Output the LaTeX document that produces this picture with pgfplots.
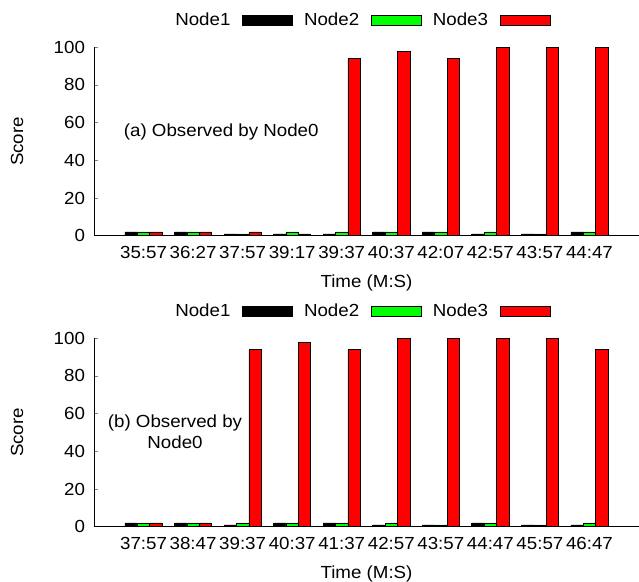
\documentclass[border=0pt]{standalone}
\usepackage{pgfplots}
\usepackage{pgfplotstable}
\pgfplotsset{compat=1.18}
\usepackage{fontspec}
\setmainfont{Liberation Sans}[FakeStretch=1.07]
\newcommand{\fs}{\fontsize{17.5bp}{20.5bp}\selectfont}
\definecolor{gpgreen}{RGB}{0,255,0}
\definecolor{gpred}{RGB}{255,0,0}

\pgfplotstableread{
x n1 n2 n3
0 2 2 2
1 2 2 2
2 1 1 2
3 1 2 1
4 1 2 94
5 2 2 98
6 2 2 94
7 1 2 100
8 1 1 100
9 2 2 100
}\dataA

\pgfplotstableread{
x n1 n2 n3
0 2 2 2
1 2 2 2
2 1 2 94
3 2 2 98
4 2 2 94
5 1 2 100
6 1 1 100
7 2 2 100
8 1 1 100
9 1 2 94
}\dataB

\pgfplotsset{
  mystyle/.style={
    scale only axis,
    width=545bp, height=188.4bp,
    xmin=-1, xmax=10, ymin=0, ymax=100,
    axis x line=bottom, axis y line=left,
    axis line style={-, line width=0.8bp},
    ybar, bar width=0.25,
    clip=false,
    ytick={0,20,...,100},
    xtick={0,...,9},
    xtick style={draw=none},
    ytick style={line width=0.8bp},
    major tick length=4bp,
    tick align=inside,
    /pgf/number format/assume math mode=true,
    tick label style={font=\fs},
    yticklabel style={xshift=-5.5bp},
    xticklabel style={yshift=-7bp},
    label style={font=\fs},
    ylabel={Score},
    xlabel={Time (M:S)},
    ylabel style={at={(axis description cs:-0.1413,0.5)}, anchor=center, rotate=0},
    xlabel style={at={(axis description cs:0.5,-0.251)}, anchor=center},
    legend plot pos=right,
    legend columns=3,
    legend style={at={(axis description cs:0.493,1.1436)}, anchor=center,
      draw=none, fill=none, font=\fs, column sep=11.5bp,
      nodes={inner sep=0pt}},
  },
  n1style/.style={fill=black, draw=black, line width=0.6bp, bar shift=-0.25,
    legend image code/.code={\draw[fill=black,draw=black,line width=0.6bp] (0bp,-5bp) rectangle (50bp,5bp);}},
  n2style/.style={fill=gpgreen, draw=black, line width=0.6bp, bar shift=0,
    legend image code/.code={\draw[fill=gpgreen,draw=black,line width=0.6bp] (0bp,-5bp) rectangle (50bp,5bp);}},
  n3style/.style={fill=gpred, draw=black, line width=0.6bp, bar shift=0.25,
    legend image code/.code={\draw[fill=gpred,draw=black,line width=0.6bp] (0bp,-5bp) rectangle (50bp,5bp);}},
}

\begin{document}
\begin{tikzpicture}[x=1bp,y=1bp]
\path[use as bounding box] (0,0) rectangle (639,582);

\begin{axis}[mystyle, at={(94bp,346.3bp)}, anchor=south west,
  xticklabels={35:57,36:27,37:57,39:17,39:37,40:37,42:07,42:57,43:57,44:47}]
\addplot[n1style] table[x=x,y=n1] {\dataA};
\addplot[n2style] table[x=x,y=n2] {\dataA};
\addplot[n3style] table[x=x,y=n3] {\dataA};
\legend{Node1,Node2,Node3}
\node[anchor=west, font=\fs, inner sep=0pt] at (axis cs:-0.4,55.2) {(a) Observed by Node0};
\end{axis}

\begin{axis}[mystyle, at={(94bp,55.3bp)}, anchor=south west,
  xticklabels={37:57,38:47,39:37,40:37,41:37,42:57,43:57,44:47,45:57,46:47}]
\addplot[n1style] table[x=x,y=n1] {\dataB};
\addplot[n2style] table[x=x,y=n2] {\dataB};
\addplot[n3style] table[x=x,y=n3] {\dataB};
\legend{Node1,Node2,Node3}
\node[align=center, font=\fs, inner sep=0pt] at (axis cs:0.635,50.4) {(b) Observed by\\Node0};
\end{axis}
\end{tikzpicture}
\end{document}
